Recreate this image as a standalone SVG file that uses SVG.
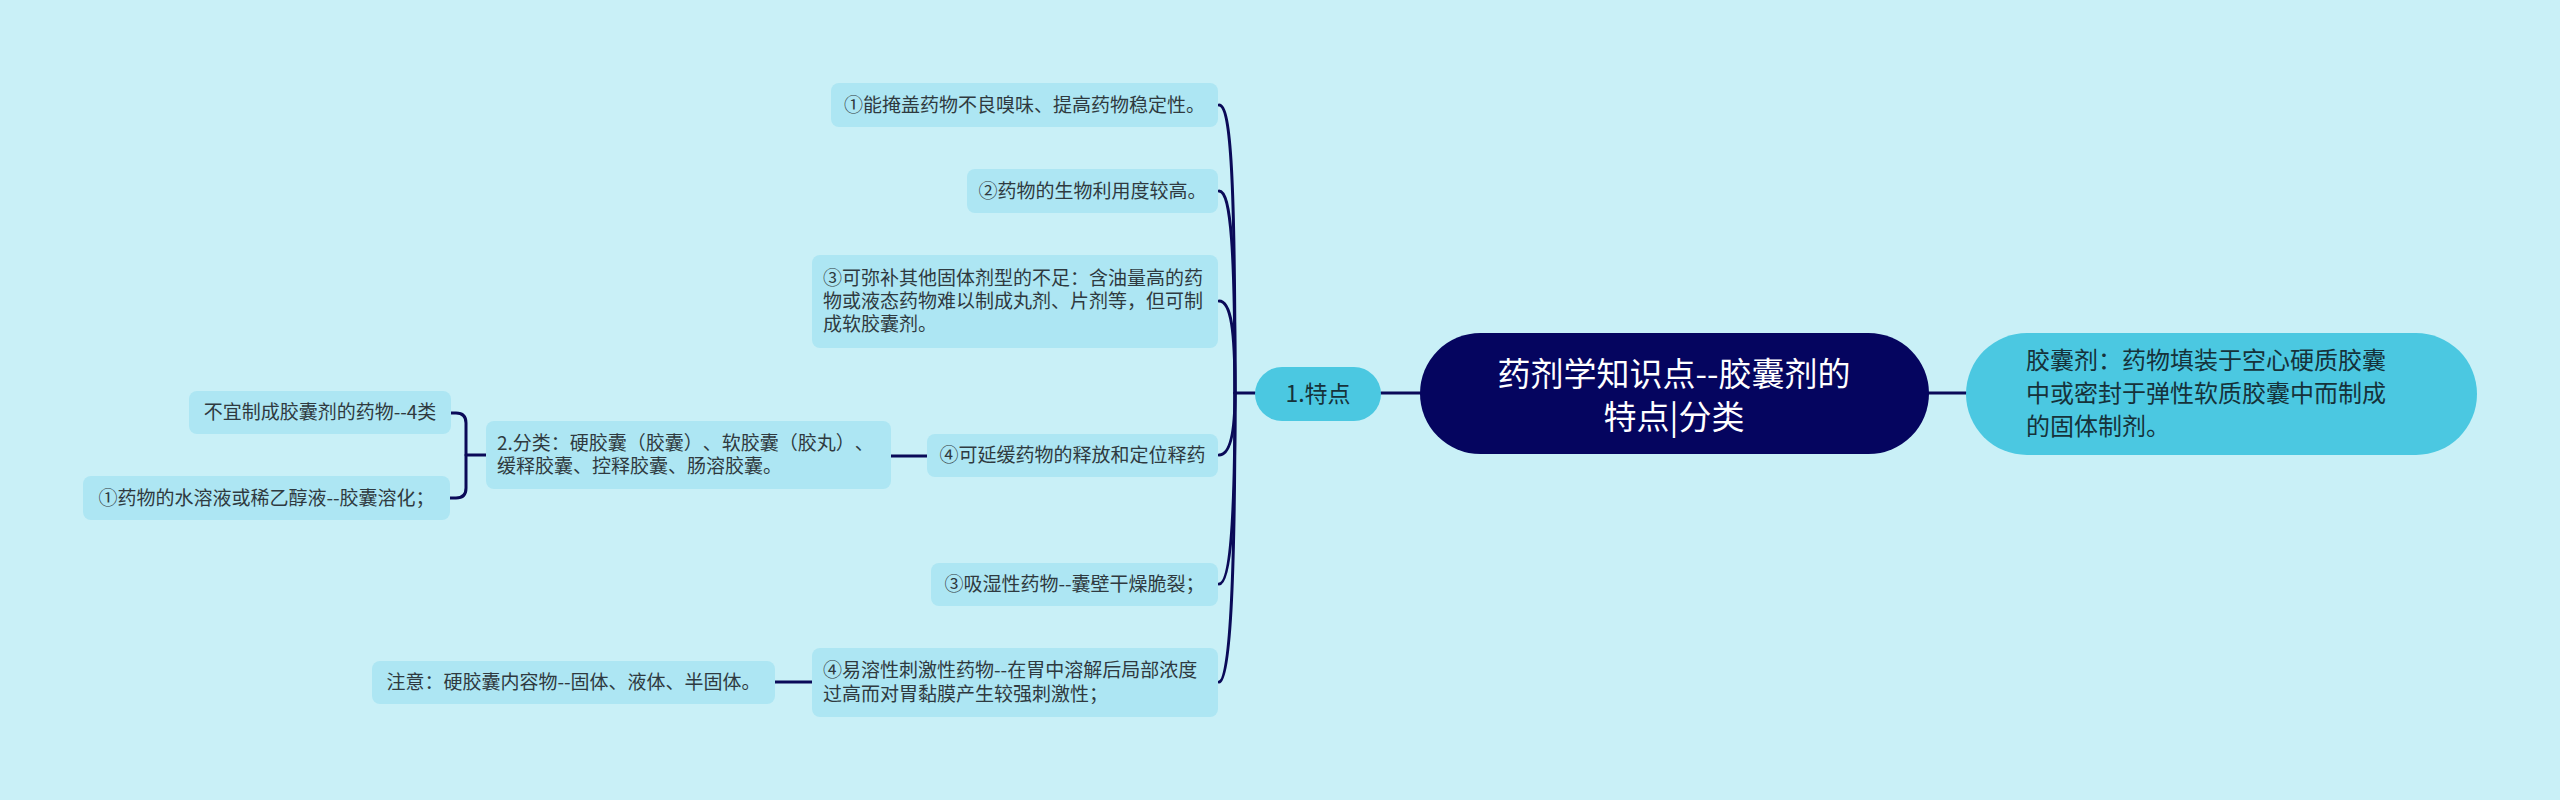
<svg xmlns="http://www.w3.org/2000/svg" width="2560" height="800" viewBox="0 0 2560 800">
<style>
text{font-family:"Noto Sans CJK SC","Noto Sans",sans-serif;text-spacing-trim:space-all;}
.leaf rect{fill:#ade6f3;}
.leaf text{font-size:19px;fill:#2f3a40;}
.mid rect{fill:#4bc8e1;}
.mid text{fill:#16323a;}
.root rect{fill:#05055f;}
.root text{fill:#ffffff;font-size:33px;}
.conn path{fill:none;stroke:#0a0a58;stroke-width:3;stroke-linecap:round;stroke-linejoin:round;}
</style>
<rect x="0" y="0" width="2560" height="800" fill="#c9f0f7"/>
<g class="conn" id="connectors">
<path d="M1381,393 L1420,393"/>
<path d="M1929,393 L1966,393"/>
<path d="M1255,393 L1235,393"/>
<path d="M1219,105 C1231,105 1235,180 1235,393"/>
<path d="M1219,191 C1231,191 1235,250 1235,393"/>
<path d="M1219,301 C1231,301 1235,330 1235,393"/>
<path d="M1219,455 C1231,455 1235,430 1235,393"/>
<path d="M1219,584 C1231,584 1235,510 1235,393"/>
<path d="M1219,682 C1231,682 1235,560 1235,393"/>
<path d="M927,456 L891,456"/>
<path d="M486,455 L466,455"/>
<path d="M450,413 L456,413 Q466,413 466,423 L466,488 Q466,498 456,498 L450,498"/>
<path d="M812,682 L775,682"/>
</g>
<g id="root" class="root">
<rect x="1420" y="333" width="509" height="121" rx="60.5"/>
<text x="1674" y="386" text-anchor="middle">药剂学知识点--胶囊剂的</text>
<text x="1674" y="429" text-anchor="middle">特点|分类</text>
</g>
<g id="definition" class="mid">
<rect x="1966" y="333" width="511" height="122" rx="61"/>
<text x="2026" y="369" font-size="24">胶囊剂：药物填装于空心硬质胶囊</text>
<text x="2026" y="402" font-size="24">中或密封于弹性软质胶囊中而制成</text>
<text x="2026" y="435" font-size="24">的固体制剂。</text>
</g>
<g id="features" class="mid">
<rect x="1255" y="367" width="126" height="54" rx="27"/>
<text x="1318" y="402" text-anchor="middle" font-size="23">1.特点</text>
</g>
<g id="f1" class="leaf">
<rect x="831" y="83" width="387" height="44" rx="8"/>
<text x="1024.5" y="112" text-anchor="middle">①能掩盖药物不良嗅味、提高药物稳定性。</text>
</g>
<g id="f2" class="leaf">
<rect x="967" y="169" width="251" height="44" rx="8"/>
<text x="1092.5" y="198" text-anchor="middle">②药物的生物利用度较高。</text>
</g>
<g id="f3" class="leaf">
<rect x="812" y="255" width="406" height="93" rx="8"/>
<text x="823" y="285">③可弥补其他固体剂型的不足：含油量高的药</text>
<text x="823" y="308">物或液态药物难以制成丸剂、片剂等，但可制</text>
<text x="823" y="331">成软胶囊剂。</text>
</g>
<g id="f4" class="leaf">
<rect x="927" y="434" width="291" height="43" rx="8"/>
<text x="1072.5" y="462" text-anchor="middle">④可延缓药物的释放和定位释药</text>
</g>
<g id="classify" class="leaf">
<rect x="486" y="421" width="405" height="68" rx="8"/>
<text x="497" y="450">2.分类：硬胶囊（胶囊）、软胶囊（胶丸）、</text>
<text x="497" y="473">缓释胶囊、控释胶囊、肠溶胶囊。</text>
</g>
<g id="unsuitable" class="leaf">
<rect x="189" y="391" width="262" height="43" rx="8"/>
<text x="320" y="419" text-anchor="middle">不宜制成胶囊剂的药物--4类</text>
</g>
<g id="u1" class="leaf">
<rect x="83" y="476" width="367" height="44" rx="8"/>
<text x="266.5" y="505" text-anchor="middle">①药物的水溶液或稀乙醇液--胶囊溶化；</text>
</g>
<g id="f5" class="leaf">
<rect x="931" y="563" width="287" height="43" rx="8"/>
<text x="1074.5" y="591" text-anchor="middle">③吸湿性药物--囊壁干燥脆裂；</text>
</g>
<g id="f6" class="leaf">
<rect x="812" y="648" width="406" height="69" rx="8"/>
<text x="823" y="677">④易溶性刺激性药物--在胃中溶解后局部浓度</text>
<text x="823" y="701">过高而对胃黏膜产生较强刺激性；</text>
</g>
<g id="note" class="leaf">
<rect x="372" y="661" width="403" height="43" rx="8"/>
<text x="573.5" y="689" text-anchor="middle">注意：硬胶囊内容物--固体、液体、半固体。</text>
</g>
</svg>
